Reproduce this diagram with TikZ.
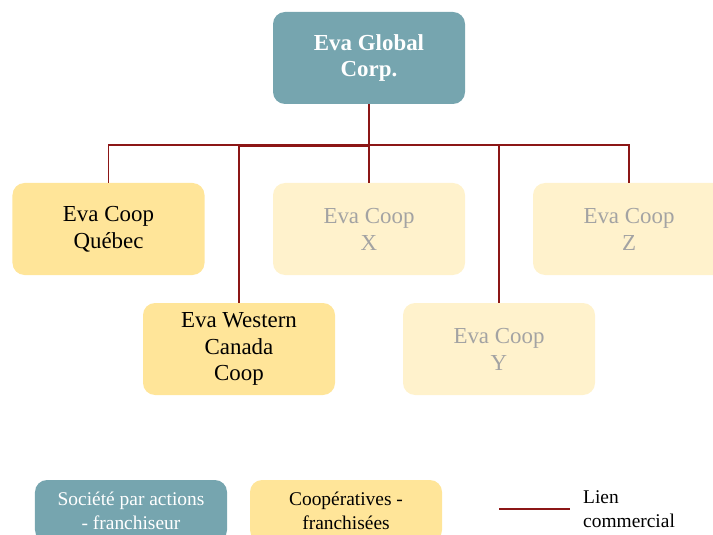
\documentclass[tikz,border=0pt]{standalone}
\usepackage{fontspec}
\setmainfont{Liberation Serif}
\definecolor{teal}{HTML}{76A5AF}
\definecolor{darkyel}{HTML}{FFE599}
\definecolor{lightyel}{HTML}{FFF2CC}
\definecolor{greytxt}{HTML}{A3A3A3}
\definecolor{linkred}{RGB}{140,22,22}
\tikzset{
  box/.style={rectangle, rounded corners=12bp, minimum width=192bp, minimum height=92bp, inner sep=0pt, align=center, font=\fontsize{23}{27}\selectfont},
  corp/.style={box, fill=teal, text=white, font=\fontsize{23}{27}\selectfont\bfseries},
  coop/.style={box, fill=darkyel, text=black},
  coopfade/.style={box, fill=lightyel, text=greytxt},
  legbox/.style={rectangle, rounded corners=12bp, minimum width=192bp, minimum height=62bp, inner sep=0pt, align=center, font=\fontsize{19.5}{24}\selectfont},
  link/.style={draw=linkred, line width=1.3bp},
}
\begin{document}
\begin{tikzpicture}[x=1bp,y=-1bp]
\useasboundingbox (0,0) rectangle (713,535);
\clip (0,0) rectangle (713,535);
\node[corp] (top) at (369,58) {Eva Global\\Corp.};
\node[coop] (qc) at (108.5,229) {Eva Coop\\Québec};
\node[coopfade] (cx) at (369,229) {Eva Coop\\X};
\node[coopfade] (cz) at (629,229) {Eva Coop\\Z};
\node[coop] (wc) at (239,349) {Eva Western\\Canada\\Coop};
\node[coopfade] (cy) at (499,349) {Eva Coop\\Y};
% connectors
\draw[link] (top.south) -- (cx.north);
\draw[link] (top.south) -- (369,145) -| (qc.north);
\draw[link] (top.south) -- (369,146.2) -| (wc.north);
\draw[link] (top.south) -- (369,145) -| (cy.north);
\draw[link] (top.south) -- (369,145) -| (cz.north);
% legend
\node[legbox, fill=teal, text=white] (lga) at (131,511) {Société par actions\\- franchiseur};
\node[legbox, fill=darkyel, text=black] (lgb) at (346,511) {Coopératives -\\franchisées};
\coordinate (lgl1) at (499,509);
\coordinate (lgl2) at (570,509);
\draw[link] (lgl1) -- (lgl2);
\node[anchor=west, align=left, inner sep=0pt, font=\fontsize{19.5}{24}\selectfont] (lgt) at (583,509) {Lien\\commercial};
\end{tikzpicture}
\end{document}
